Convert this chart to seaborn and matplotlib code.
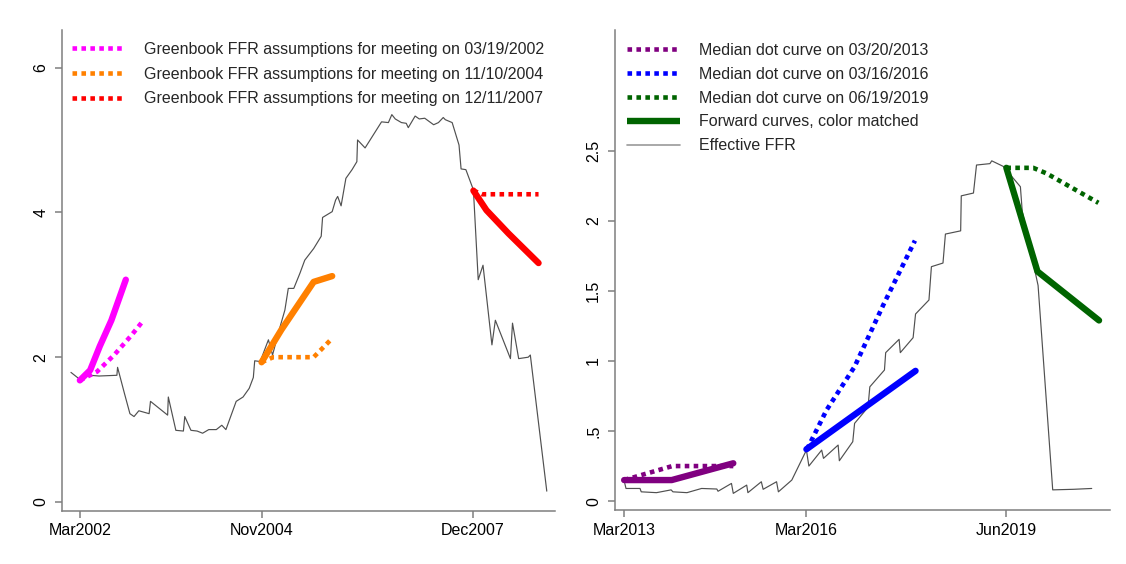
import matplotlib
matplotlib.use("Agg")
import matplotlib.pyplot as plt
import seaborn as sns
from matplotlib.lines import Line2D

# ---------------- Left panel data (x in decimal years) ----------------
ffr_left_x = [2002.08, 2002.20, 2002.36, 2002.49, 2002.75, 2002.76, 2002.86, 2002.94, 2003.00, 2003.07,
              2003.22, 2003.24, 2003.49, 2003.50, 2003.61, 2003.72, 2003.74, 2003.83, 2003.92, 2004.00,
              2004.09, 2004.20, 2004.28, 2004.34, 2004.49, 2004.59, 2004.68, 2004.74, 2004.76, 2004.84,
              2004.96, 2005.02, 2005.13, 2005.20, 2005.25, 2005.33, 2005.42, 2005.49, 2005.62, 2005.73,
              2005.75, 2005.89, 2005.94, 2005.97, 2006.02, 2006.09, 2006.18, 2006.25, 2006.26, 2006.37,
              2006.49, 2006.61, 2006.71, 2006.76, 2006.81, 2006.90, 2006.97, 2007.00, 2007.10, 2007.16,
              2007.24, 2007.37, 2007.44, 2007.51, 2007.54, 2007.64, 2007.74, 2007.77, 2007.84, 2007.95,
              2008.02, 2008.09, 2008.22, 2008.27, 2008.49, 2008.52, 2008.61, 2008.75, 2008.78, 2009.02]
ffr_left_y = [1.79, 1.70, 1.75, 1.74, 1.75, 1.86, 1.50, 1.22, 1.18, 1.26,
              1.22, 1.39, 1.20, 1.45, 0.99, 0.98, 1.18, 0.99, 0.98, 0.95,
              1.00, 1.00, 1.06, 1.00, 1.39, 1.45, 1.57, 1.72, 1.95, 1.94,
              2.24, 2.03, 2.42, 2.65, 2.95, 2.95, 3.16, 3.34, 3.50, 3.67,
              3.93, 4.01, 4.17, 4.22, 4.09, 4.47, 4.59, 4.70, 5.00, 4.89,
              5.07, 5.25, 5.24, 5.35, 5.29, 5.24, 5.23, 5.17, 5.33, 5.29,
              5.30, 5.21, 5.24, 5.31, 5.28, 5.24, 4.93, 4.60, 4.59, 4.31,
              3.07, 3.27, 2.17, 2.51, 1.98, 2.47, 1.98, 2.00, 2.03, 0.15]

gb2002_x = [2002.21, 2002.46, 2002.71, 2002.96, 2003.13]
gb2002_y = [1.68, 1.80, 2.03, 2.30, 2.50]
fwd2002_x = [2002.21, 2002.36, 2002.50, 2002.67, 2002.88]
fwd2002_y = [1.68, 1.82, 2.15, 2.51, 3.07]

gb2004_x = [2004.86, 2005.03, 2005.62, 2005.89]
gb2004_y = [1.93, 2.00, 2.00, 2.26]
fwd2004_x = [2004.86, 2005.15, 2005.62, 2005.89]
fwd2004_y = [1.93, 2.38, 3.04, 3.12]

gb2007_x = [2007.95, 2008.08, 2008.90]
gb2007_y = [4.30, 4.25, 4.25]
fwd2007_x = [2007.95, 2008.14, 2008.46, 2008.90]
fwd2007_y = [4.30, 4.03, 3.71, 3.30]

left_ticks = [2002.21, 2004.86, 2007.94]
left_ticklabels = ["Mar2002", "Nov2004", "Dec2007"]
left_yticks = [0, 2, 4, 6]
left_yticklabels = ["0", "2", "4", "6"]
left_labels = ["Greenbook FFR assumptions for meeting on 03/19/2002",
               "Greenbook FFR assumptions for meeting on 11/10/2004",
               "Greenbook FFR assumptions for meeting on 12/11/2007"]

# ---------------- Right panel data ----------------
ffr_right_x = [2013.22, 2013.24, 2013.47, 2013.49, 2013.74, 2013.98, 2014.01, 2014.24, 2014.48, 2014.73,
               2014.75, 2014.97, 2015.00, 2015.22, 2015.24, 2015.46, 2015.49, 2015.71, 2015.74, 2015.96,
               2016.20, 2016.24, 2016.45, 2016.48, 2016.72, 2016.74, 2016.96, 2016.99, 2017.21, 2017.24,
               2017.48, 2017.50, 2017.72, 2017.74, 2017.95, 2017.99, 2018.21, 2018.25, 2018.44, 2018.48,
               2018.73, 2018.74, 2018.94, 2018.99, 2019.21, 2019.24, 2019.43, 2019.71, 2019.74, 2019.98,
               2020.00, 2020.24, 2020.58, 2020.88]
ffr_right_y = [0.126, 0.09, 0.09, 0.066, 0.06, 0.08, 0.066, 0.06, 0.09, 0.086,
               0.07, 0.126, 0.055, 0.114, 0.06, 0.138, 0.084, 0.138, 0.066, 0.15,
               0.364, 0.25, 0.364, 0.305, 0.40, 0.288, 0.424, 0.555, 0.67, 0.816,
               0.936, 1.06, 1.155, 1.06, 1.167, 1.336, 1.436, 1.674, 1.70, 1.907,
               1.93, 2.18, 2.20, 2.40, 2.41, 2.43, 2.39, 2.245, 2.07, 1.58,
               1.54, 0.08, 0.084, 0.09]

dot2013_x = [2013.21, 2014.00, 2015.00]
dot2013_y = [0.15, 0.25, 0.25]
fwd2013_x = [2013.21, 2013.99, 2015.00]
fwd2013_y = [0.15, 0.15, 0.27]

dot2016_x = [2016.21, 2016.53, 2016.99, 2017.46, 2017.98]
dot2016_y = [0.37, 0.65, 0.96, 1.40, 1.86]
fwd2016_x = [2016.20, 2017.99]
fwd2016_y = [0.37, 0.93]

dot2019_x = [2019.48, 2019.92, 2020.14, 2020.99]
dot2019_y = [2.38, 2.38, 2.34, 2.13]
fwd2019_x = [2019.48, 2019.99, 2021.00]
fwd2019_y = [2.38, 1.64, 1.29]

right_ticks = [2013.21, 2016.20, 2019.47]
right_ticklabels = ["Mar2013", "Mar2016", "Jun2019"]
right_yticks = [0, 0.5, 1, 1.5, 2, 2.5]
right_yticklabels = ["0", ".5", "1", "1.5", "2", "2.5"]
right_labels = ["Median dot curve on 03/20/2013",
                "Median dot curve on 03/16/2016",
                "Median dot curve on 06/19/2019",
                "Forward curves, color matched",
                "Effective FFR"]

# ---------------- Styling ----------------
sns.set_theme(style="white")
plt.rcParams['font.family'] = ['Liberation Sans', 'DejaVu Sans']

FS = 11.5
GREY_AX = "#7f7f7f"
FFR_C = "#505050"
LW_SOLID = 4.6
LW_DOT = 3.3
DOT = (0, (1.0, 0.95))

fig = plt.figure(figsize=(11.26, 5.64), dpi=100)
fig.patch.set_facecolor("white")
ax1 = fig.add_axes([0.0551, 0.094, 0.4378, 0.853])
ax2 = fig.add_axes([0.5462, 0.0957, 0.4396, 0.851])


def solid(ax, x, y, c):
    sns.lineplot(x=x, y=y, ax=ax, color=c, lw=LW_SOLID, estimator=None, sort=False)
    ln = ax.lines[-1]
    ln.set_solid_capstyle("round")
    ln.set_solid_joinstyle("round")
    ln.set_zorder(4)


def dotted(ax, x, y, c):
    sns.lineplot(x=x, y=y, ax=ax, color=c, lw=LW_DOT, estimator=None, sort=False)
    ln = ax.lines[-1]
    ln.set_linestyle(DOT)
    ln.set_dash_capstyle("butt")
    ln.set_zorder(5)


def ffr(ax, x, y):
    sns.lineplot(x=x, y=y, ax=ax, color=FFR_C, lw=0.85, estimator=None, sort=False)
    ax.lines[-1].set_zorder(3)


# Left panel
ffr(ax1, ffr_left_x, ffr_left_y)
solid(ax1, fwd2002_x, fwd2002_y, "#ff00ff")
dotted(ax1, gb2002_x, gb2002_y, "#ff00ff")
solid(ax1, fwd2004_x, fwd2004_y, "#ff8000")
dotted(ax1, gb2004_x, gb2004_y, "#ff8000")
solid(ax1, fwd2007_x, fwd2007_y, "#ff0000")
dotted(ax1, gb2007_x, gb2007_y, "#ff0000")

# Right panel
ffr(ax2, ffr_right_x, ffr_right_y)
solid(ax2, fwd2013_x, fwd2013_y, "#800080")
dotted(ax2, dot2013_x, dot2013_y, "#800080")
solid(ax2, fwd2016_x, fwd2016_y, "#0000ff")
dotted(ax2, dot2016_x, dot2016_y, "#0000ff")
solid(ax2, fwd2019_x, fwd2019_y, "#006400")
dotted(ax2, dot2019_x, dot2019_y, "#006400")


def style_axes(ax, xlim, ylim, xt, xtl, yt, ytl):
    ax.set_xlim(*xlim)
    ax.set_ylim(*ylim)
    ax.set_xticks(xt)
    ax.set_xticklabels(xtl)
    ax.set_yticks(yt)
    ax.set_yticklabels(ytl, rotation=90, va="center")
    ax.set_xlabel("")
    ax.set_ylabel("")
    for s in ["top", "right"]:
        ax.spines[s].set_visible(False)
    for s in ["left", "bottom"]:
        ax.spines[s].set_color(GREY_AX)
        ax.spines[s].set_linewidth(1.1)
    ax.tick_params(axis="both", which="both", direction="out", length=5, width=1.1,
                   color=GREY_AX, labelcolor="black", labelsize=FS, left=True, bottom=True)
    ax.tick_params(axis="y", pad=5)
    ax.tick_params(axis="x", pad=4)
    ax.set_facecolor("white")
    ax.grid(False)


style_axes(ax1, (2001.95, 2009.14), (-0.124, 6.52), left_ticks, left_ticklabels,
           left_yticks, left_yticklabels)
style_axes(ax2, (2013.06, 2021.18), (-0.064, 3.364), right_ticks, right_ticklabels,
           right_yticks, right_yticklabels)


def dot_handle(c):
    return Line2D([], [], color=c, lw=LW_DOT, linestyle=DOT, dash_capstyle="butt")


h_left = [dot_handle("#ff00ff"), dot_handle("#ff8000"), dot_handle("#ff0000")]
leg1 = ax1.legend(h_left, left_labels, loc="upper left", bbox_to_anchor=(0.02, 0.975),
                  frameon=False, fontsize=FS, handlelength=3.3, handletextpad=1.2,
                  labelspacing=0.61, borderaxespad=0, borderpad=0)

h_right = [dot_handle("#800080"), dot_handle("#0000ff"), dot_handle("#006400"),
           Line2D([], [], color="#006400", lw=LW_SOLID, solid_capstyle="butt"),
           Line2D([], [], color="#999999", lw=1.2)]
leg2 = ax2.legend(h_right, right_labels, loc="upper left", bbox_to_anchor=(0.024, 0.973),
                  frameon=False, fontsize=FS, handlelength=3.3, handletextpad=1.2,
                  labelspacing=0.55, borderaxespad=0, borderpad=0)

fig.savefig("out.png", dpi=100, facecolor="white")
